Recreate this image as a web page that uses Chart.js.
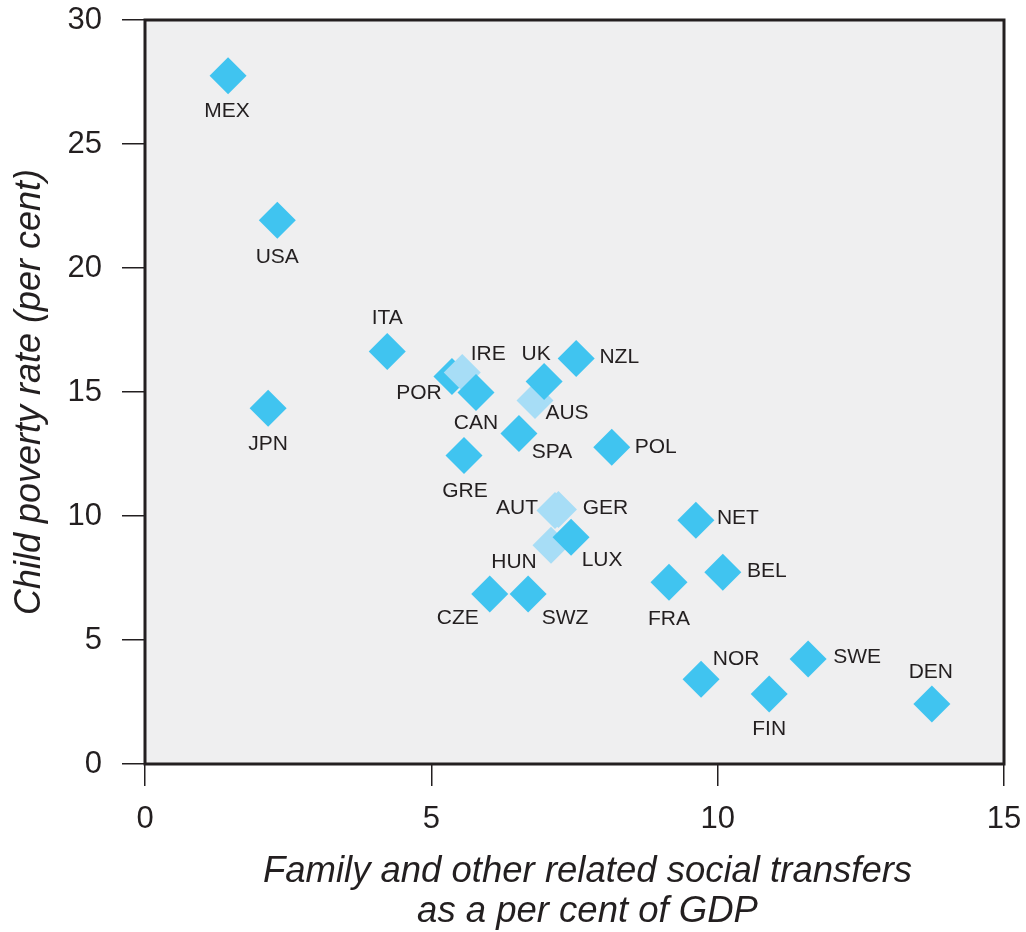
<!DOCTYPE html>
<html>
<head>
<meta charset="utf-8">
<script src="https://cdn.jsdelivr.net/npm/chart.js@4.4.1/dist/chart.umd.min.js"></script>
<style>
  html, body { margin: 0; padding: 0; background: #ffffff; }
  canvas { display: block; }
</style>
</head>
<body>
<canvas id="c" width="1026" height="932"></canvas>
<script>
// ---- Data ----
const countries = ['MEX','USA','JPN','ITA','POR','IRE','CAN','AUS','UK','NZL','SPA','POL','GRE','AUT','GER','HUN','LUX','CZE','SWZ','NET','BEL','FRA','NOR','FIN','SWE','DEN'];
const transfers = [1.45, 2.31, 2.15, 4.23, 5.36, 5.54, 5.78, 6.81, 6.97, 7.53, 6.53, 8.15, 5.57, 7.16, 7.22, 7.09, 7.44, 6.02, 6.69, 9.62, 10.09, 9.15, 9.71, 10.90, 11.58, 13.74];
const poverty   = [27.75, 21.93, 14.34, 16.63, 15.63, 15.79, 14.98, 14.66, 15.42, 16.35, 13.33, 12.77, 12.44, 10.22, 10.26, 8.82, 9.14, 6.85, 6.85, 9.83, 7.73, 7.33, 3.42, 2.82, 4.23, 2.42];
const lightMarked = ['IRE','AUS','AUT','GER','HUN'];
const xTicks = [0, 5, 10, 15];
const yTicks = [0, 5, 10, 15, 20, 25, 30];
const xTitle = ['Family and other related social transfers', 'as a per cent of GDP'];
const yTitle = 'Child poverty rate (per cent)';

// ---- Label placement (pixel offsets from the marker centre; style only) ----
const labelOffset = {
  MEX:[-1,35], USA:[0,37], JPN:[0,36], ITA:[0,-33], POR:[-33,17], IRE:[26,-18],
  CAN:[0,31], AUS:[32,13], UK:[-8,-27], NZL:[43,-1], SPA:[33,19], POL:[44,0],
  GRE:[1,36], AUT:[-38,-2], GER:[47,-1], HUN:[-37,17], LUX:[31,23], CZE:[-32,24],
  SWZ:[37,24], NET:[42,-2], BEL:[44,-1], FRA:[0,37], NOR:[35,-20], FIN:[0,35],
  SWE:[49,-2], DEN:[-1,-32]
};

const DARK = '#40c4f0';
const LIGHT = '#a7ddf6';
const INK = '#231f20';
const SANS = "'Liberation Sans', Arial, Helvetica, sans-serif";

const points = countries.map((c, i) => ({ x: transfers[i], y: poverty[i], label: c }));
const colors = countries.map(c => lightMarked.includes(c) ? LIGHT : DARK);

const framePlugin = {
  id: 'frame',
  beforeDraw(chart) {
    const { ctx, chartArea: a } = chart;
    ctx.save();
    ctx.fillStyle = '#ffffff';
    ctx.fillRect(0, 0, chart.width, chart.height);
    ctx.fillStyle = '#efeff0';
    ctx.fillRect(a.left, a.top, a.right - a.left, a.bottom - a.top);
    ctx.restore();
  },
  afterDatasetsDraw(chart) {
    const { ctx, chartArea: a } = chart;
    ctx.save();
    ctx.strokeStyle = INK;
    ctx.lineWidth = 3;
    ctx.strokeRect(a.left, a.top, a.right - a.left, a.bottom - a.top);
    // point labels
    ctx.fillStyle = INK;
    ctx.font = '21px ' + SANS;
    ctx.textAlign = 'center';
    ctx.textBaseline = 'middle';
    const meta = chart.getDatasetMeta(0);
    meta.data.forEach((el, i) => {
      const name = countries[i];
      const off = labelOffset[name] || [0, 35];
      ctx.fillText(name, el.x + off[0], el.y + off[1]);
    });
    // x-axis title (two lines, centred slightly right of the plot centre as in the original)
    ctx.font = 'italic 36.5px ' + SANS;
    const cx = (a.left + a.right) / 2 + 13;
    ctx.fillText(xTitle[0], cx, a.bottom + 108);
    ctx.fillText(xTitle[1], cx, a.bottom + 148);
    ctx.restore();
  }
};

const zeroPad = s => { s.paddingTop = 0; s.paddingBottom = 0; s.paddingLeft = 0; s.paddingRight = 0; };

new Chart(document.getElementById('c'), {
  type: 'scatter',
  data: {
    datasets: [{
      data: points,
      backgroundColor: colors,
      borderWidth: 0,
      pointStyle: 'rectRot',
      pointRadius: 18.5,
      pointHoverRadius: 18.5
    }]
  },
  options: {
    responsive: false,
    animation: false,
    events: [],
    layout: { padding: { top: 20, right: 22, left: 0, bottom: 0 } },
    plugins: { legend: { display: false }, tooltip: { enabled: false } },
    scales: {
      x: {
        type: 'linear', min: 0, max: 15,
        afterBuildTicks: s => { s.ticks = xTicks.map(v => ({ value: v })); },
        afterFit: s => { s.height = 168; zeroPad(s); },
        ticks: { color: INK, font: { size: 31, family: SANS }, padding: 15 },
        grid: { drawOnChartArea: false, drawTicks: true, tickLength: 22, color: INK, lineWidth: 1.5 },
        border: { display: false },
        title: { display: false }
      },
      y: {
        type: 'linear', min: 0, max: 30,
        afterBuildTicks: s => { s.ticks = yTicks.map(v => ({ value: v })); },
        afterFit: s => { s.width = 145; zeroPad(s); },
        ticks: { color: INK, font: { size: 31, family: SANS }, padding: 20 },
        grid: { drawOnChartArea: false, drawTicks: true, tickLength: 23, color: INK, lineWidth: 1.5 },
        border: { display: false },
        title: {
          display: true,
          text: yTitle,
          color: INK,
          font: { size: 36, style: 'italic', family: SANS, lineHeight: 1.2 },
          padding: { top: 8, bottom: 0 }
        }
      }
    }
  },
  plugins: [framePlugin]
});
</script>
</body>
</html>
